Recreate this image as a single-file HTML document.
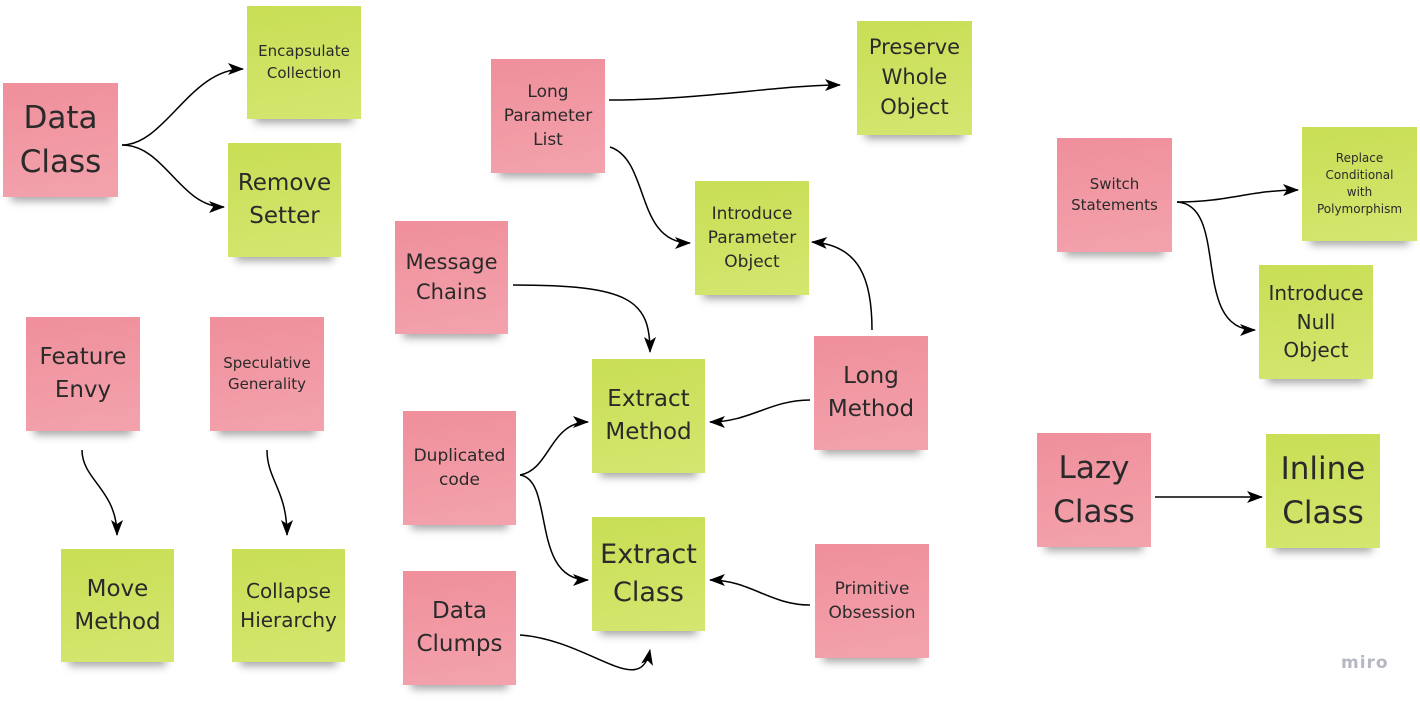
<!DOCTYPE html>
<html><head><meta charset="utf-8"><style>
body{margin:0;width:1420px;height:704px;background:#fff;position:relative;overflow:hidden;font-family:"DejaVu Sans","Liberation Sans",sans-serif;}
.n{position:absolute;display:flex;align-items:center;justify-content:center;text-align:center;color:#2a2a2a;line-height:1.42;box-shadow:0 12px 8px -8px rgba(0,0,0,.35);}
.p{background:linear-gradient(170deg,#ef8f9b,#f3a3ad);}
.g{background:linear-gradient(170deg,#c9de55,#d5e670);}
svg{position:absolute;left:0;top:0;}
</style></head><body>
<svg width="1420" height="704"><defs><marker id="a" markerWidth="16" markerHeight="12" refX="15" refY="6" orient="auto" markerUnits="userSpaceOnUse"><path d="M0,0 L16,6 L0,12 L4,6z" fill="#000"/></marker></defs>
<g fill="none" stroke="#000" stroke-width="1.5" marker-end="url(#a)">
<path d="M122,145 C165,145 190,69 243,69"/>
<path d="M122,145 C165,145 180,207 224,207"/>
<path d="M609,100 C700,100 780,85 840,85"/>
<path d="M610,147 C650,160 635,243 690,243"/>
<path d="M872,330 C872,280 860,245 812,242"/>
<path d="M513,285 C630,285 650,300 650,352"/>
<path d="M810,400 C770,400 750,422 710,422"/>
<path d="M520,475 C550,470 550,422 588,422"/>
<path d="M520,475 C555,480 530,580 588,580"/>
<path d="M810,605 C770,605 750,580 710,580"/>
<path d="M520,635 C590,640 640,700 650,650"/>
<path d="M82,450 C82,480 117,490 117,535"/>
<path d="M267,450 C267,480 287,490 287,535"/>
<path d="M1177,202 C1230,202 1250,190 1298,190"/>
<path d="M1177,202 C1230,205 1190,330 1255,330"/>
<path d="M1155,497 L1262,497"/>
</g></svg>
<div class="n p" style="left:3px;top:83px;width:115px;height:114px;font-size:31px">Data<br>Class</div>
<div class="n g" style="left:247px;top:6px;width:114px;height:113px;font-size:15px">Encapsulate<br>Collection</div>
<div class="n g" style="left:228px;top:143px;width:113px;height:114px;font-size:23px">Remove<br>Setter</div>
<div class="n p" style="left:26px;top:317px;width:114px;height:114px;font-size:23px">Feature<br>Envy</div>
<div class="n p" style="left:210px;top:317px;width:114px;height:114px;font-size:15px">Speculative<br>Generality</div>
<div class="n g" style="left:61px;top:549px;width:113px;height:113px;font-size:23px">Move<br>Method</div>
<div class="n g" style="left:232px;top:549px;width:113px;height:113px;font-size:20px">Collapse<br>Hierarchy</div>
<div class="n p" style="left:491px;top:59px;width:114px;height:114px;font-size:17px">Long<br>Parameter<br>List</div>
<div class="n g" style="left:857px;top:21px;width:115px;height:114px;font-size:21px">Preserve<br>Whole<br>Object</div>
<div class="n g" style="left:695px;top:181px;width:114px;height:114px;font-size:17px">Introduce<br>Parameter<br>Object</div>
<div class="n p" style="left:395px;top:221px;width:113px;height:113px;font-size:21px">Message<br>Chains</div>
<div class="n g" style="left:592px;top:359px;width:113px;height:114px;font-size:23px">Extract<br>Method</div>
<div class="n p" style="left:814px;top:336px;width:114px;height:114px;font-size:23px">Long<br>Method</div>
<div class="n p" style="left:403px;top:411px;width:113px;height:114px;font-size:17px">Duplicated<br>code</div>
<div class="n g" style="left:592px;top:517px;width:113px;height:114px;font-size:27px">Extract<br>Class</div>
<div class="n p" style="left:815px;top:544px;width:114px;height:114px;font-size:17px">Primitive<br>Obsession</div>
<div class="n p" style="left:403px;top:571px;width:113px;height:114px;font-size:23px">Data<br>Clumps</div>
<div class="n p" style="left:1057px;top:138px;width:115px;height:114px;font-size:15px">Switch<br>Statements</div>
<div class="n g" style="left:1302px;top:127px;width:115px;height:114px;font-size:12px">Replace<br>Conditional<br>with<br>Polymorphism</div>
<div class="n g" style="left:1259px;top:265px;width:114px;height:114px;font-size:20px">Introduce<br>Null<br>Object</div>
<div class="n p" style="left:1037px;top:433px;width:114px;height:114px;font-size:31px">Lazy<br>Class</div>
<div class="n g" style="left:1266px;top:434px;width:114px;height:114px;font-size:31px">Inline<br>Class</div>
<div style="position:absolute;left:1341px;top:653px;font-size:17px;color:#b5b8c2;font-weight:bold;letter-spacing:1px">miro</div>
</body></html>
